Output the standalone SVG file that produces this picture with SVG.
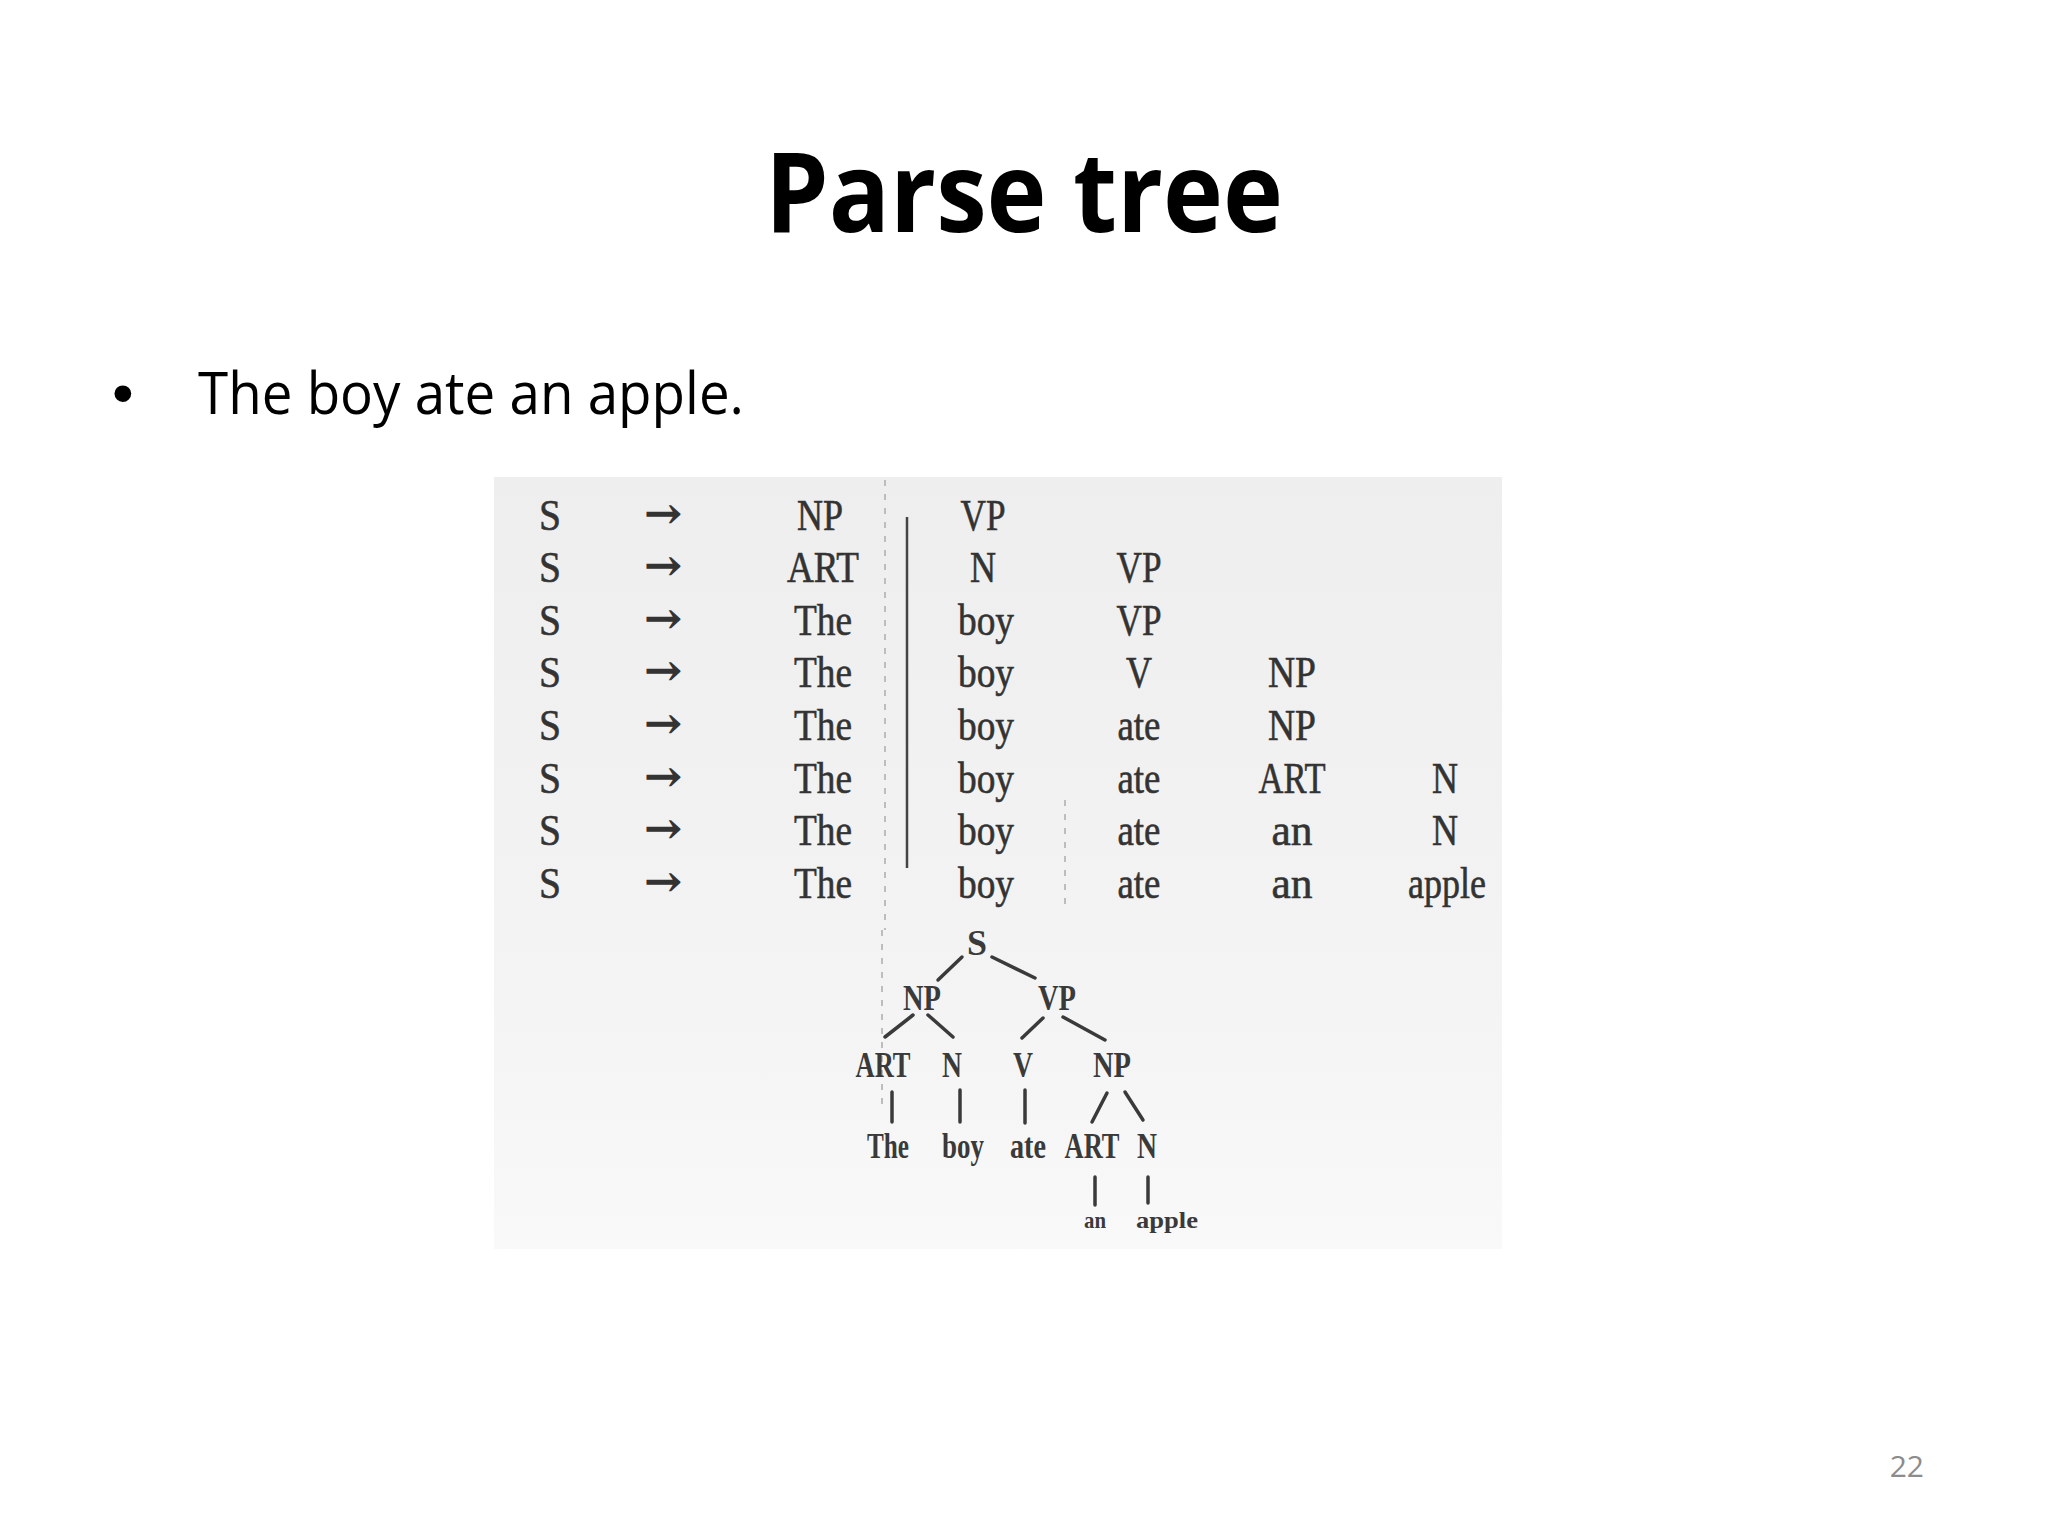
<svg xmlns="http://www.w3.org/2000/svg" width="2048" height="1536" viewBox="0 0 2048 1536">
<defs>
<linearGradient id="paper" x1="0" y1="0" x2="0" y2="1">
<stop offset="0" stop-color="#eeeeee"/>
<stop offset="0.7" stop-color="#f4f4f4"/>
<stop offset="1" stop-color="#f9f9f9"/>
</linearGradient>
<style>
.title{font-family:"Open Sans","Liberation Sans",sans-serif;font-weight:700;font-size:112px;fill:#000}
.body{font-family:"Open Sans","Liberation Sans",sans-serif;font-size:58px;fill:#000}
.dot{font-family:"Liberation Sans","Open Sans",sans-serif;font-size:62px;fill:#000}
.pg{font-family:"Open Sans","Liberation Sans",sans-serif;font-size:30px;fill:#8c8c8c}
.t{font-family:"Liberation Serif","DejaVu Serif",serif;font-size:44px;fill:#333;stroke:#333;stroke-width:0.6;text-anchor:middle}
.ar{font-family:"DejaVu Serif","Liberation Serif",serif;font-size:40px;fill:#333;stroke:#333;stroke-width:1.8;text-anchor:middle}
.tr{font-family:"Liberation Serif","DejaVu Serif",serif;font-size:36px;fill:#3a3a3a;text-anchor:middle;font-weight:700}
.sm{font-family:"Liberation Serif","DejaVu Serif",serif;font-size:24px;fill:#3a3a3a;text-anchor:middle;font-weight:700}
.edge{stroke:#3a3a3a;stroke-width:3.5;stroke-linecap:round;fill:none}
.div{stroke:#444;stroke-width:2.5;fill:none}
.faint{stroke:#bdbdbd;stroke-width:2;stroke-dasharray:6 8;fill:none}
</style>
</defs>
<rect x="0" y="0" width="2048" height="1536" fill="#ffffff"/>

<text id="title" class="title" x="1024" y="232" text-anchor="middle" textLength="518" lengthAdjust="spacingAndGlyphs">Parse tree</text>

<g id="bullet">
<text class="dot" x="112" y="414">•</text>
<text class="body" x="198" y="414" textLength="546" lengthAdjust="spacingAndGlyphs">The boy ate an apple.</text>
</g>

<text id="page-number" class="pg" x="1924" y="1477" text-anchor="end">22</text>

<g id="scan">
<rect x="494" y="477" width="1008" height="772" fill="url(#paper)"/>
<line class="faint" x1="885" y1="480" x2="885" y2="930"/>
<line class="faint" x1="1065" y1="800" x2="1065" y2="905"/>
<line class="faint" x1="882" y1="930" x2="882" y2="1110"/>
<line class="div" x1="907" y1="517" x2="907" y2="868"/>

<g id="derivation">
<g id="row1">
<text class="t" x="550" y="530" textLength="22" lengthAdjust="spacingAndGlyphs">S</text>
<text class="ar" x="663" y="527" textLength="36" lengthAdjust="spacingAndGlyphs">→</text>
<text class="t" x="820" y="530" textLength="46" lengthAdjust="spacingAndGlyphs">NP</text>
<text class="t" x="983" y="530" textLength="45" lengthAdjust="spacingAndGlyphs">VP</text>
</g>
<g id="row2">
<text class="t" x="550" y="582" textLength="22" lengthAdjust="spacingAndGlyphs">S</text>
<text class="ar" x="663" y="579" textLength="36" lengthAdjust="spacingAndGlyphs">→</text>
<text class="t" x="823" y="582" textLength="72" lengthAdjust="spacingAndGlyphs">ART</text>
<text class="t" x="983" y="582" textLength="26" lengthAdjust="spacingAndGlyphs">N</text>
<text class="t" x="1139" y="582" textLength="45" lengthAdjust="spacingAndGlyphs">VP</text>
</g>
<g id="row3">
<text class="t" x="550" y="635" textLength="22" lengthAdjust="spacingAndGlyphs">S</text>
<text class="ar" x="663" y="632" textLength="36" lengthAdjust="spacingAndGlyphs">→</text>
<text class="t" x="823" y="635" textLength="58" lengthAdjust="spacingAndGlyphs">The</text>
<text class="t" x="986" y="635" textLength="56" lengthAdjust="spacingAndGlyphs">boy</text>
<text class="t" x="1139" y="635" textLength="45" lengthAdjust="spacingAndGlyphs">VP</text>
</g>
<g id="row4">
<text class="t" x="550" y="687" textLength="22" lengthAdjust="spacingAndGlyphs">S</text>
<text class="ar" x="663" y="684" textLength="36" lengthAdjust="spacingAndGlyphs">→</text>
<text class="t" x="823" y="687" textLength="58" lengthAdjust="spacingAndGlyphs">The</text>
<text class="t" x="986" y="687" textLength="56" lengthAdjust="spacingAndGlyphs">boy</text>
<text class="t" x="1139" y="687" textLength="26" lengthAdjust="spacingAndGlyphs">V</text>
<text class="t" x="1292" y="687" textLength="48" lengthAdjust="spacingAndGlyphs">NP</text>
</g>
<g id="row5">
<text class="t" x="550" y="740" textLength="22" lengthAdjust="spacingAndGlyphs">S</text>
<text class="ar" x="663" y="737" textLength="36" lengthAdjust="spacingAndGlyphs">→</text>
<text class="t" x="823" y="740" textLength="58" lengthAdjust="spacingAndGlyphs">The</text>
<text class="t" x="986" y="740" textLength="56" lengthAdjust="spacingAndGlyphs">boy</text>
<text class="t" x="1139" y="740" textLength="43" lengthAdjust="spacingAndGlyphs">ate</text>
<text class="t" x="1292" y="740" textLength="48" lengthAdjust="spacingAndGlyphs">NP</text>
</g>
<g id="row6">
<text class="t" x="550" y="793" textLength="22" lengthAdjust="spacingAndGlyphs">S</text>
<text class="ar" x="663" y="790" textLength="36" lengthAdjust="spacingAndGlyphs">→</text>
<text class="t" x="823" y="793" textLength="58" lengthAdjust="spacingAndGlyphs">The</text>
<text class="t" x="986" y="793" textLength="56" lengthAdjust="spacingAndGlyphs">boy</text>
<text class="t" x="1139" y="793" textLength="43" lengthAdjust="spacingAndGlyphs">ate</text>
<text class="t" x="1292" y="793" textLength="67" lengthAdjust="spacingAndGlyphs">ART</text>
<text class="t" x="1445" y="793" textLength="26" lengthAdjust="spacingAndGlyphs">N</text>
</g>
<g id="row7">
<text class="t" x="550" y="845" textLength="22" lengthAdjust="spacingAndGlyphs">S</text>
<text class="ar" x="663" y="842" textLength="36" lengthAdjust="spacingAndGlyphs">→</text>
<text class="t" x="823" y="845" textLength="58" lengthAdjust="spacingAndGlyphs">The</text>
<text class="t" x="986" y="845" textLength="56" lengthAdjust="spacingAndGlyphs">boy</text>
<text class="t" x="1139" y="845" textLength="43" lengthAdjust="spacingAndGlyphs">ate</text>
<text class="t" x="1292" y="845" textLength="41" lengthAdjust="spacingAndGlyphs">an</text>
<text class="t" x="1445" y="845" textLength="26" lengthAdjust="spacingAndGlyphs">N</text>
</g>
<g id="row8">
<text class="t" x="550" y="898" textLength="22" lengthAdjust="spacingAndGlyphs">S</text>
<text class="ar" x="663" y="895" textLength="36" lengthAdjust="spacingAndGlyphs">→</text>
<text class="t" x="823" y="898" textLength="58" lengthAdjust="spacingAndGlyphs">The</text>
<text class="t" x="986" y="898" textLength="56" lengthAdjust="spacingAndGlyphs">boy</text>
<text class="t" x="1139" y="898" textLength="43" lengthAdjust="spacingAndGlyphs">ate</text>
<text class="t" x="1292" y="898" textLength="41" lengthAdjust="spacingAndGlyphs">an</text>
<text class="t" x="1447" y="898" textLength="78" lengthAdjust="spacingAndGlyphs">apple</text>
</g>
</g>

<g id="tree">
<g id="connectors">
<line class="edge" x1="962" y1="957" x2="938" y2="980"/>
<line class="edge" x1="992" y1="957" x2="1035" y2="978"/>
<line class="edge" x1="913" y1="1015" x2="885" y2="1037"/>
<line class="edge" x1="928" y1="1015" x2="953" y2="1037"/>
<line class="edge" x1="1043" y1="1018" x2="1022" y2="1038"/>
<line class="edge" x1="1063" y1="1017" x2="1105" y2="1040"/>
<line class="edge" x1="892" y1="1092" x2="892" y2="1122"/>
<line class="edge" x1="960" y1="1090" x2="960" y2="1122"/>
<line class="edge" x1="1025" y1="1090" x2="1025" y2="1123"/>
<line class="edge" x1="1107" y1="1093" x2="1092" y2="1122"/>
<line class="edge" x1="1125" y1="1092" x2="1143" y2="1120"/>
<line class="edge" x1="1095" y1="1177" x2="1095" y2="1205"/>
<line class="edge" x1="1148" y1="1177" x2="1148" y2="1203"/>
</g>
<g id="n-S"><text class="tr" x="977" y="955" textLength="20" lengthAdjust="spacingAndGlyphs">S</text></g>
<g id="n-NP1"><text class="tr" x="922" y="1010" textLength="38" lengthAdjust="spacingAndGlyphs">NP</text></g>
<g id="n-VP"><text class="tr" x="1057" y="1010" textLength="38" lengthAdjust="spacingAndGlyphs">VP</text></g>
<g id="n-ART1"><text class="tr" x="883" y="1077" textLength="55" lengthAdjust="spacingAndGlyphs">ART</text></g>
<g id="n-N1"><text class="tr" x="952" y="1077" textLength="20" lengthAdjust="spacingAndGlyphs">N</text></g>
<g id="n-V"><text class="tr" x="1023" y="1077" textLength="20" lengthAdjust="spacingAndGlyphs">V</text></g>
<g id="n-NP2"><text class="tr" x="1112" y="1077" textLength="38" lengthAdjust="spacingAndGlyphs">NP</text></g>
<g id="n-The"><text class="tr" x="888" y="1158" textLength="42" lengthAdjust="spacingAndGlyphs">The</text></g>
<g id="n-boy"><text class="tr" x="963" y="1158" textLength="42" lengthAdjust="spacingAndGlyphs">boy</text></g>
<g id="n-ate"><text class="tr" x="1028" y="1158" textLength="36" lengthAdjust="spacingAndGlyphs">ate</text></g>
<g id="n-ART2"><text class="tr" x="1092" y="1158" textLength="55" lengthAdjust="spacingAndGlyphs">ART</text></g>
<g id="n-N2"><text class="tr" x="1147" y="1158" textLength="20" lengthAdjust="spacingAndGlyphs">N</text></g>
<g id="n-an"><text class="sm" x="1095" y="1228" textLength="22" lengthAdjust="spacingAndGlyphs">an</text></g>
<g id="n-apple"><text class="sm" x="1167" y="1228" textLength="62" lengthAdjust="spacingAndGlyphs">apple</text></g>
</g>
</g>
</svg>
